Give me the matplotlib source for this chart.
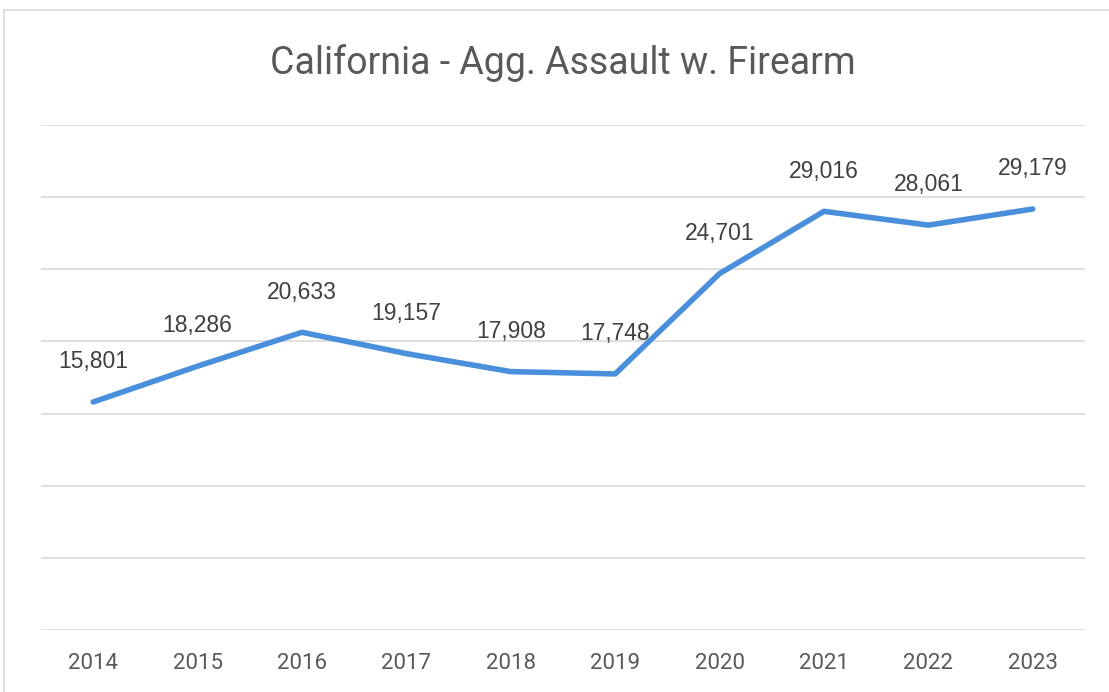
import matplotlib
matplotlib.use("Agg")
import matplotlib.pyplot as plt
from matplotlib.patches import Rectangle

years = ["2014", "2015", "2016", "2017", "2018", "2019", "2020", "2021", "2022", "2023"]
values = [15801, 18286, 20633, 19157, 17908, 17748, 24701, 29016, 28061, 29179]
title = "California - Agg. Assault w. Firearm"

W, H = 1109, 692
fig = plt.figure(figsize=(W / 100, H / 100), dpi=100)
fig.patch.set_facecolor("white")

narrow = ["Roboto", "DejaVu Sans"]

# outer chart border
fig.add_artist(Rectangle((4 / W, -0.05), 1.2, 1 - 10 / H + 0.05, transform=fig.transFigure,
                         fill=False, edgecolor="#d9d9d9", lw=1.2))

ax = fig.add_axes([41 / W, (H - 630) / H, (1085 - 41) / W, (630 - 125) / H])
x = list(range(len(years)))
ax.plot(x, values, color="#4a8fdb", lw=4.0, solid_capstyle="round", solid_joinstyle="round", zorder=3)
ax.set_xlim(-0.5, len(years) - 0.5)
ax.set_ylim(0, 35000)
ax.set_yticks(range(0, 35001, 5000))
ax.yaxis.grid(True, color="#d9d9d9", lw=1.2)
ax.set_axisbelow(True)
ax.tick_params(axis="y", left=False, labelleft=False)
ax.tick_params(axis="x", bottom=False, pad=13)
ax.set_xticks(x)
ax.set_xticklabels(years, fontsize=16, color="#595959", family=narrow)
for s in ax.spines.values():
    s.set_visible(False)

for xi, v in zip(x, values):
    ax.annotate(f"{v:,}", (xi, v), xytext=(0, 29), textcoords="offset points",
                ha="center", va="center", fontsize=16.5, color="#404040",
                family=["Liberation Sans", "DejaVu Sans"])

fig.text(563 / W, 1 - 63 / H, title, ha="center", va="center", fontsize=27,
         color="#595959", family=narrow)

fig.savefig("out.png", dpi=100)
